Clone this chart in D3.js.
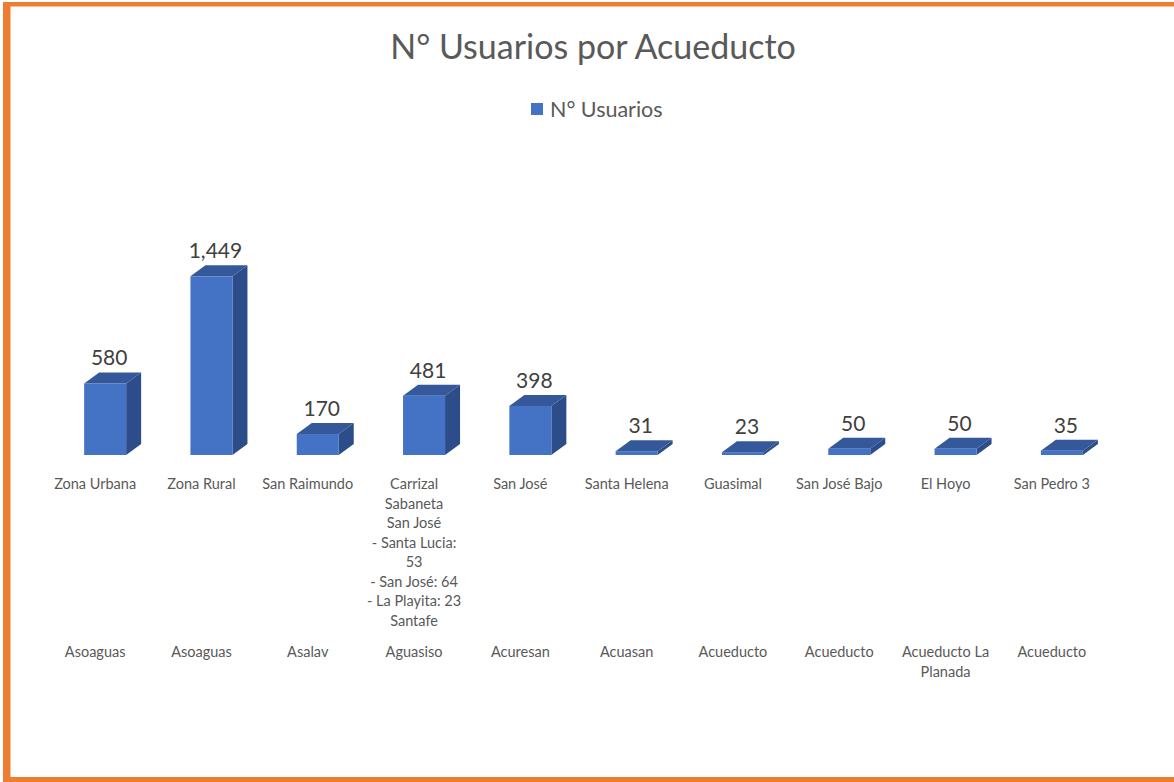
<!DOCTYPE html>
<html>
<head>
<meta charset="utf-8">
<script src="https://cdn.jsdelivr.net/npm/d3@7"></script>
<style>
  html, body { margin: 0; padding: 0; background: #fff; }
  svg { display: block; font-family: Lato, "Open Sans", sans-serif; }
</style>
</head>
<body>
<div id="chart"></div>
<script>
// data
const places = [
  ['Zona Urbana'], ['Zona Rural'], ['San Raimundo'],
  ['Carrizal', 'Sabaneta', 'San José', '- Santa Lucia:', '53', '- San José: 64', '- La Playita: 23', 'Santafe'],
  ['San José'], ['Santa Helena'], ['Guasimal'], ['San José Bajo'], ['El Hoyo'], ['San Pedro 3']
];
const groups = [
  ['Asoaguas'], ['Asoaguas'], ['Asalav'], ['Aguasiso'], ['Acuresan'],
  ['Acuasan'], ['Acueducto'], ['Acueducto'], ['Acueducto La', 'Planada'], ['Acueducto']
];
const usuarios = [580, 1449, 170, 481, 398, 31, 23, 50, 50, 35];

const width = 1174;
const height = 782;
const depthX = 15;
const depthY = -11;
const barW = 42;

const svg = d3.select('#chart')
  .append('svg')
  .attr('width', width)
  .attr('height', height);

svg.append('rect').attr('width', width).attr('height', height).attr('fill', '#fff');

// orange frame (top, left, bottom)
svg.append('rect').attr('x', 3).attr('y', 2).attr('width', width - 3).attr('height', 4.5).attr('fill', '#ED7D31');
svg.append('rect').attr('x', 3).attr('y', 2).attr('width', 7.5).attr('height', height - 2).attr('fill', '#ED7D31');
svg.append('rect').attr('x', 3).attr('y', 777).attr('width', width - 3).attr('height', 5).attr('fill', '#ED7D31');

svg.append('text')
  .attr('x', 593).attr('y', 59)
  .attr('text-anchor', 'middle')
  .attr('font-size', '34px')
  .attr('fill', '#595959')
  .text('N° Usuarios por Acueducto');

// legend
svg.append('rect').attr('x', 531).attr('y', 103).attr('width', 12).attr('height', 12).attr('fill', '#4472C4');
svg.append('text')
  .attr('x', 550).attr('y', 117)
  .attr('font-size', '21.5px')
  .attr('fill', '#595959')
  .text('N° Usuarios');

const idx = d3.range(usuarios.length);
const x = d3.scaleBand().domain(idx).range([42, 1105]);
const y = d3.scaleLinear().domain([0, 1500]).range([455, 270]);

const bars = svg.append('g').selectAll('g')
  .data(idx)
  .enter()
  .append('g');

bars.each(function (i) {
  const g = d3.select(this);
  const cx = x(i) + x.bandwidth() / 2 + 10;
  const x0 = cx - barW / 2;
  const x1 = cx + barW / 2;
  const yb = y(0);
  const yt = y(usuarios[i]);
  // side
  g.append('path')
    .attr('d', `M${x1},${yt}L${x1 + depthX},${yt + depthY}L${x1 + depthX},${yb + depthY}L${x1},${yb}Z`)
    .attr('fill', '#2D4D8A');
  // top
  g.append('path')
    .attr('d', `M${x0},${yt}L${x0 + depthX},${yt + depthY}L${x1 + depthX},${yt + depthY}L${x1},${yt}Z`)
    .attr('fill', '#35589B');
  // front
  g.append('rect')
    .attr('x', x0).attr('y', yt)
    .attr('width', barW).attr('height', yb - yt)
    .attr('fill', '#4472C4');
  // value label
  g.append('text')
    .attr('x', cx + 4)
    .attr('y', yt + depthY - 7)
    .attr('text-anchor', 'middle')
    .attr('font-size', '21px')
    .attr('fill', '#404040')
    .text(d3.format(',')(usuarios[i]));
});

// two-level category axis
function multiLine(lines, top) {
  svg.append('g').selectAll('text')
    .data(idx)
    .enter()
    .append('text')
    .attr('text-anchor', 'middle')
    .attr('font-size', '14.5px')
    .attr('fill', '#595959')
    .each(function (i) {
      d3.select(this).selectAll('tspan')
        .data(lines[i])
        .enter()
        .append('tspan')
        .attr('x', x(i) + x.bandwidth() / 2)
        .attr('y', (d, k) => top + k * 19.5)
        .text(d => d);
    });
}
multiLine(places, 489);
multiLine(groups, 657);
</script>
</body>
</html>
